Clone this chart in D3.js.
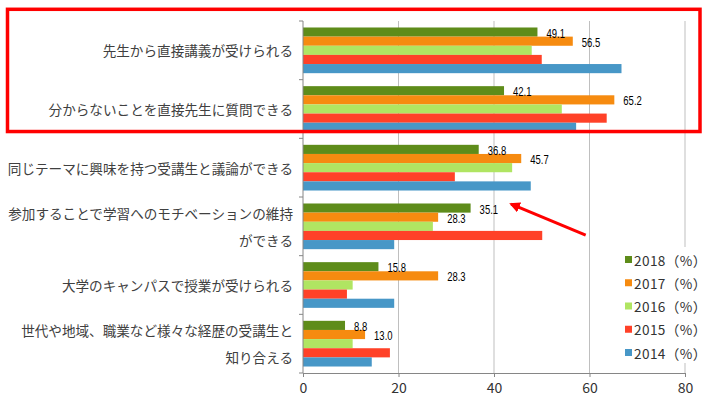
<!DOCTYPE html>
<html><head><meta charset="utf-8">
<script src="https://cdn.jsdelivr.net/npm/d3@7"></script>
<style>
html,body{margin:0;padding:0;background:#fff;}
svg{display:block;}
</style></head>
<body>
<svg id="chart" width="706" height="399"></svg>
<script>
const categories = [
  "先生から直接講義が受けられる",
  "分からないことを直接先生に質問できる",
  "同じテーマに興味を持つ受講生と議論ができる",
  "参加することで学習へのモチベーションの維持\nができる",
  "大学のキャンパスで授業が受けられる",
  "世代や地域、職業など様々な経歴の受講生と\n知り合える"
];
const seriesNames = ["2018（%）","2017（%）","2016（%）","2015（%）","2014（%）"];
const v2018 = [49.1, 42.1, 36.8, 35.1, 15.8, 8.8];
const v2017 = [56.5, 65.2, 45.7, 28.3, 28.3, 13.0];
const v2016 = [47.9, 54.2, 43.8, 27.2, 10.4, 10.4];
const v2015 = [50.0, 63.6, 31.8, 50.1, 9.2, 18.2];
const v2014 = [66.7, 57.2, 47.7, 19.1, 19.1, 14.4];
const labeledSeries = ["2018（%）","2017（%）"];
const xTicks = [0, 20, 40, 60, 80];
const colors = ["#5e8c1a","#f68b10","#b0e562","#ff4128","#4797c7"];

const seriesValues = [v2018, v2017, v2016, v2015, v2014];

const svg = d3.select("#chart");
const L = 303, R = 685, T = 21, B = 373;

const x = d3.scaleLinear().domain([0, 80]).range([L, R]);
const y = d3.scaleBand().domain(categories).range([T, B]).padding(0);
const ySub = d3.scaleBand().domain(seriesNames).range([0, y.bandwidth()]).paddingInner(0).paddingOuter(0.71);
const yLin = d3.scaleLinear().domain([0, categories.length]).range([T, B]);
const color = d3.scaleOrdinal().domain(seriesNames).range(colors);

// gridlines
svg.append("g").selectAll("line").data(xTicks.filter(d => d > 0)).join("line")
  .attr("x1", d => x(d)).attr("x2", d => x(d))
  .attr("y1", T).attr("y2", B)
  .attr("stroke", "#bfbfbf").attr("stroke-width", 1);

// bars
const rows = [];
categories.forEach((c, i) => {
  seriesNames.forEach((s, j) => rows.push({cat: c, series: s, value: seriesValues[j][i]}));
});
svg.append("g").selectAll("rect").data(rows).join("rect")
  .attr("x", x(0))
  .attr("y", d => y(d.cat) + ySub(d.series))
  .attr("width", d => x(d.value) - x(0))
  .attr("height", ySub.bandwidth())
  .attr("fill", d => color(d.series));

// data labels (condensed look)
svg.append("g").selectAll("g").data(rows.filter(d => labeledSeries.includes(d.series))).join("g")
  .attr("transform", d => `translate(${x(d.value) + 9},${y(d.cat) + ySub(d.series) + ySub.bandwidth() / 2 + 1}) scale(0.76,1)`)
  .append("text")
  .attr("dominant-baseline", "central")
  .attr("font-family", "'Liberation Sans',Arial,sans-serif")
  .attr("font-size", "12.5px")
  .attr("fill", "#000")
  .text(d => d.value.toFixed(1));

// x axis
const xAxis = svg.append("g").attr("transform", `translate(0,${B})`)
  .call(d3.axisBottom(x).tickValues(xTicks).tickSize(4).tickSizeOuter(0));
xAxis.select(".domain").attr("stroke", "#868686");
xAxis.selectAll(".tick line").attr("stroke", "#868686");
xAxis.selectAll(".tick text")
  .attr("font-family", "'Noto Sans CJK JP','Noto Sans',sans-serif")
  .attr("font-size", "14px").attr("fill", "#333").attr("dy", "0.9em");

// y axis line with boundary ticks
const yAxisG = svg.append("g");
yAxisG.append("line").attr("x1", L).attr("x2", L).attr("y1", T).attr("y2", B).attr("stroke", "#868686");
const bounds = categories.map(c => y(c)).concat([y(categories[categories.length - 1]) + y.bandwidth()]);
yAxisG.selectAll("line.tk").data(bounds).join("line").attr("class", "tk")
  .attr("x1", L - 4).attr("x2", L).attr("y1", d => d).attr("y2", d => d).attr("stroke", "#868686");

// category labels
const catG = svg.append("g").selectAll("text").data(categories).join("text")
  .attr("text-anchor", "end")
  .attr("font-family", "'Noto Sans CJK JP',sans-serif")
  .attr("font-size", "13.6px")
  .attr("fill", "#404040");
catG.each(function(d) {
  const lines = d.split("\n");
  const cy = y(d) + y.bandwidth() / 2;
  const lh = 27;
  d3.select(this).selectAll("tspan").data(lines).join("tspan")
    .attr("x", 293)
    .attr("y", (l, k) => cy + (k - (lines.length - 1) / 2) * lh)
    .attr("dominant-baseline", "central")
    .text(l => l);
});

// legend
const leg = svg.append("g");
leg.append("rect").attr("x", 620).attr("y", 247).attr("width", 86).attr("height", 116).attr("fill", "#fff");
const ly = d3.scalePoint().domain(seriesNames).range([259.5, 352.5]);
const li = leg.selectAll("g.it").data(seriesNames).join("g").attr("class", "it")
  .attr("transform", d => `translate(625,${ly(d)})`);
li.append("rect").attr("x", 0).attr("y", -3.5).attr("width", 7).attr("height", 7).attr("fill", d => color(d));
li.append("text").attr("x", 9).attr("y", 0).attr("dominant-baseline", "central")
  .attr("font-family", "'Noto Sans CJK JP',sans-serif").attr("font-size", "13.6px").attr("fill", "#333")
  .attr("letter-spacing", "0.4px")
  .text(d => d);

// highlight box around first two categories
const hlCats = categories.slice(0, 2);
svg.append("rect")
  .attr("x", 7.5).attr("y", y(hlCats[0]) - 11.7)
  .attr("width", 692.5)
  .attr("height", (y(hlCats[1]) + y.bandwidth()) - y(hlCats[0]) + 11.7 - 6.8)
  .attr("fill", "none").attr("stroke", "#ff0000").attr("stroke-width", 3.5);

// arrow annotation (data units)
const arrowFrom = [59.2, 3.65], arrowTo = [43.6, 3.12];
svg.append("defs").append("marker").attr("id", "ah")
  .attr("viewBox", "0 0 10 10").attr("refX", 8).attr("refY", 5)
  .attr("markerWidth", 3.6).attr("markerHeight", 3.6).attr("orient", "auto")
  .append("path").attr("d", "M0,0 L10,5 L0,10 z").attr("fill", "#ff0000");
svg.append("line")
  .attr("x1", x(arrowFrom[0])).attr("y1", yLin(arrowFrom[1]))
  .attr("x2", x(arrowTo[0])).attr("y2", yLin(arrowTo[1]))
  .attr("stroke", "#ff0000").attr("stroke-width", 3)
  .attr("marker-end", "url(#ah)");
</script>
</body></html>
